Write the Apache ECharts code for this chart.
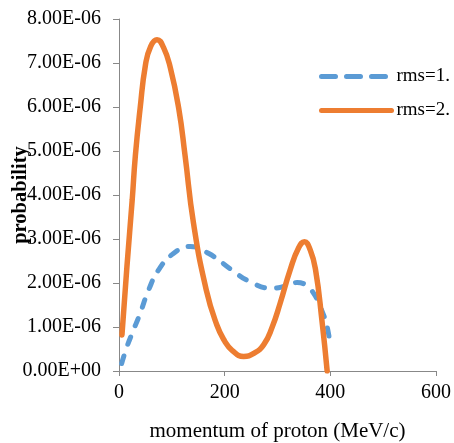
<!DOCTYPE html>
<html>
<head>
<meta charset="utf-8">
<title>probability</title>
<script src="https://cdn.jsdelivr.net/npm/echarts@6/dist/echarts.min.js"></script>
<style>
html,body{margin:0;padding:0;background:#fff;}
#chart{width:454px;height:443px;}
</style>
</head>
<body>
<div id="chart"></div>
<script>
// 数据（单位：1e-6）
var rms1 = [[5,0.17],[15,0.55],[25,0.86],[40,1.31],[56,1.84],[75,2.3],[103,2.67],[135,2.83],[170,2.67],[212,2.31],
    [248,2.03],[290,1.88],[315,1.93],[337,2.01],[352,1.97],[362,1.88],[381,1.46],[397,0.82],[399,0.55]];
var rms2 = [[5.6,0.82],[15,2.37],[25,3.89],[31,4.9],[40,5.97],[50,6.95],[60,7.38],[72,7.53],[84,7.36],[97,6.9],
    [113,5.97],[125,4.9],[141,3.36],[165,1.85],[185,1.05],[200,0.68],[214,0.47],[236,0.33],[255,0.4],[274,0.6],
    [290,1.0],[305,1.54],[324,2.3],[340,2.8],[351,2.94],[362,2.75],[372,2.3],[384,1.16],[394,0]];
var yTickLabels = ['0.00E+00','1.00E-06','2.00E-06','3.00E-06','4.00E-06','5.00E-06','6.00E-06','7.00E-06','8.00E-06'];
var xTickLabels = ['0','200','400','600'];

function scale(arr){
    return arr.map(function(p){ return [p[0], p[1]*1e-6]; });
}

var myChart = echarts.init(document.getElementById('chart'));
var font = '"Liberation Serif", "Times New Roman", serif';
var option = {
    animation:false,
    textStyle:{fontFamily:font},
    grid:{left:119,right:18,top:19,bottom:72,containLabel:false,outerBoundsMode:'none'},
    legend:{
        orient:'vertical',
        left:314,
        top:62,
        itemWidth:70,
        itemHeight:12,
        itemGap:15,
        itemStyle:{opacity:0},
        textStyle:{fontFamily:font,fontSize:19,color:'#000'},
        data:[
            {name:'rms=1.',lineStyle:{type:[14,11],width:5,cap:'round'}},
            {name:'rms=2.',lineStyle:{width:5,cap:'round'}}
        ]
    },
    xAxis:{
        type:'value',
        min:0,max:600,interval:200,
        name:'momentum of proton (MeV/c)',
        nameLocation:'middle',
        nameGap:50,
        nameMoveOverlap:false,
        nameTextStyle:{fontFamily:font,fontSize:21,color:'#000'},
        axisLine:{lineStyle:{color:'#888',width:1}},
        axisTick:{length:5,lineStyle:{color:'#888'}},
        axisLabel:{fontFamily:font,fontSize:20,color:'#000',margin:12,
            formatter:function(v){ return xTickLabels[Math.round(v/200)]; }},
        splitLine:{show:false}
    },
    yAxis:{
        type:'value',
        min:0,max:8e-6,interval:1e-6,
        name:'probability',
        nameLocation:'middle',
        nameGap:88,
        nameMoveOverlap:false,
        nameTextStyle:{fontFamily:font,fontSize:20.5,fontWeight:'bold',color:'#000'},
        axisLine:{show:true,lineStyle:{color:'#888',width:1}},
        axisTick:{show:true,length:6,lineStyle:{color:'#888'}},
        axisLabel:{fontFamily:font,fontSize:20,color:'#000',margin:18,
            formatter:function(v){ return yTickLabels[Math.round(v/1e-6)]; }},
        splitLine:{show:false}
    },
    series:[
        {
            name:'rms=1.',
            type:'line',
            smooth:0.5,
            symbol:'none',
            color:'#5b9bd5',
            lineStyle:{width:5,type:[8,12],cap:'round'},
            data:scale(rms1)
        },
        {
            name:'rms=2.',
            type:'line',
            smooth:0.5,
            symbol:'none',
            color:'#ed7d31',
            lineStyle:{width:5.5,cap:'round'},
            data:scale(rms2)
        }
    ]
};
myChart.setOption(option);
</script>
</body>
</html>
